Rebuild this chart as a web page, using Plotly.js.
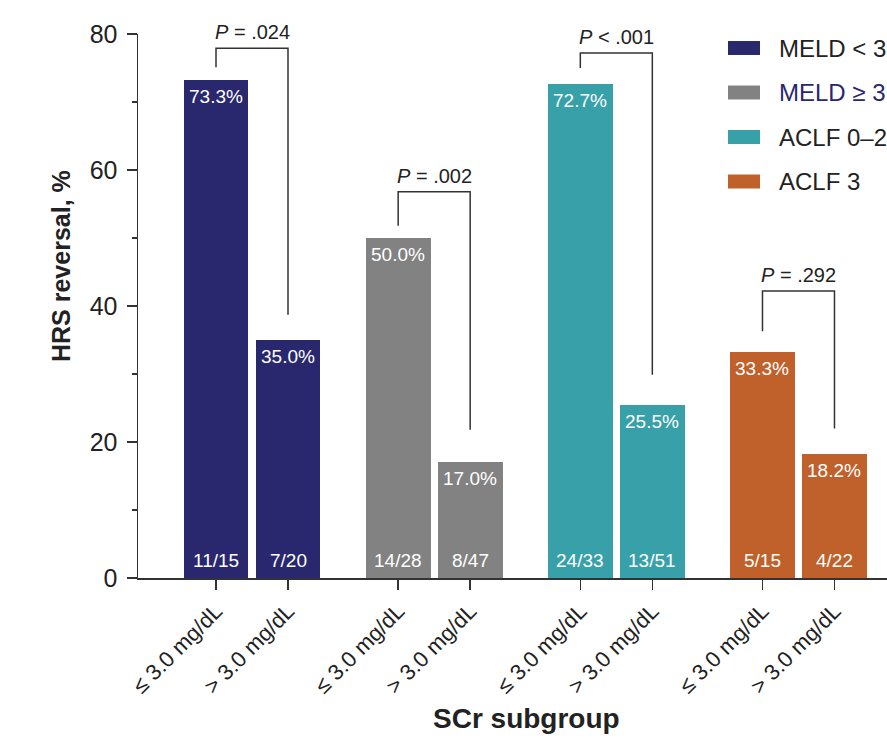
<!DOCTYPE html>
<html>
<head>
<meta charset="utf-8">
<script src="https://cdn.plot.ly/plotly-3.0.1.min.js"></script>
<style>
  html, body { margin: 0; padding: 0; background: #ffffff; }
  #chart { width: 887px; height: 743px; }
</style>
</head>
<body>
<div id="chart"></div>
<script>
// HRS reversal by serum creatinine subgroup, per severity stratum
const groups = ['MELD < 3', 'MELD ≥ 3', 'ACLF 0–2', 'ACLF 3'];
const subgroupLabels = ['≤ 3.0 mg/dL', '> 3.0 mg/dL'];
const lowScrPct = [73.3, 50.0, 72.7, 33.3];   // SCr ≤ 3.0 mg/dL
const highScrPct = [35.0, 17.0, 25.5, 18.2];  // SCr > 3.0 mg/dL
const lowScrN = ['11/15', '14/28', '24/33', '5/15'];
const highScrN = ['7/20', '8/47', '13/51', '4/22'];
const pLabels = ['<i>P</i> = .024', '<i>P</i> = .002', '<i>P</i> < .001', '<i>P</i> = .292'];

// styling
const colors = ['#29276e', '#828282', '#37a0a9', '#c0612b'];
const legendTextColors = ['#222222', '#29276e', '#222222', '#222222'];
const FONT = 'Liberation Sans, Arial, Helvetica, sans-serif';
const INK = '#222222';
const groupStep = 2.53;     // distance between group starts (x units)
const barWidth = 0.9;
const bracketLift = [4.6, 6.8, 4.5, 8.9];   // bracket top above the taller bar
const legLeftGap = [1.8, 1.8, 2.3, 3.0];
const legRightGap = [3.7, 4.8, 4.4, 3.8];

// plot-area geometry in pixels
const W = 887, H = 743;
const M = { l: 138, r: 0, t: 34, b: 165 };
const plotW = W - M.l - M.r, plotH = H - M.t - M.b;
const pxToPaperX = px => (px - M.l) / plotW;
const pxToPaperY = py => (H - M.b - py) / plotH;

const traces = [];
const tickvals = [], ticktext = [];
const shapes = [], annotations = [];

groups.forEach((g, i) => {
  const x0 = i * groupStep, x1 = x0 + 1;
  traces.push({
    type: 'bar',
    x: [x0, x1],
    y: [lowScrPct[i], highScrPct[i]],
    width: barWidth,
    marker: { color: colors[i], line: { width: 0 } },
    name: g,
    showlegend: false,
    hoverinfo: 'skip'
  });
  tickvals.push(x0, x1);
  ticktext.push(subgroupLabels[0], subgroupLabels[1]);

  // percentage labels at the top of each bar
  [[x0, lowScrPct[i]], [x1, highScrPct[i]]].forEach(([x, v]) => {
    annotations.push({
      x: x, y: v, xref: 'x', yref: 'y',
      text: v.toFixed(1) + '%', showarrow: false,
      yanchor: 'top', yshift: -4,
      font: { family: FONT, size: 19, color: '#ffffff' }
    });
  });
  // counts at the base of each bar
  [[x0, lowScrN[i]], [x1, highScrN[i]]].forEach(([x, t]) => {
    annotations.push({
      x: x, y: 0, xref: 'x', yref: 'y',
      text: t, showarrow: false,
      yanchor: 'bottom', yshift: 5,
      font: { family: FONT, size: 19, color: '#ffffff' }
    });
  });

  // significance bracket
  const top = Math.max(lowScrPct[i], highScrPct[i]) + bracketLift[i];
  const yl = lowScrPct[i] + legLeftGap[i];
  const yr = highScrPct[i] + legRightGap[i];
  shapes.push({
    type: 'path', xref: 'x', yref: 'y',
    path: `M ${x0} ${yl} L ${x0} ${top} L ${x1} ${top} L ${x1} ${yr}`,
    line: { color: '#333333', width: 1.5 }
  });
  annotations.push({
    x: (x0 + x1) / 2, y: top, xref: 'x', yref: 'y',
    text: pLabels[i], showarrow: false,
    yanchor: 'bottom', yshift: 3,
    font: { family: FONT, size: 20, color: INK }
  });

  // legend entry
  const cy = 48 + i * 44.5;
  shapes.push({
    type: 'rect', xref: 'paper', yref: 'paper',
    x0: pxToPaperX(728), x1: pxToPaperX(760),
    y0: pxToPaperY(cy - 7), y1: pxToPaperY(cy + 7),
    fillcolor: colors[i], line: { width: 0 }
  });
  annotations.push({
    x: pxToPaperX(777), y: pxToPaperY(cy), xref: 'paper', yref: 'paper',
    text: g, showarrow: false, xanchor: 'left', yanchor: 'middle',
    font: { family: FONT, size: 24, color: legendTextColors[i] }
  });
});

// axis titles
annotations.push({
  x: pxToPaperX(61), y: pxToPaperY(266), xref: 'paper', yref: 'paper',
  text: '<b>HRS reversal, %</b>', textangle: -90, showarrow: false,
  xanchor: 'center', yanchor: 'middle',
  font: { family: FONT, size: 25, color: INK }
});
annotations.push({
  x: pxToPaperX(526), y: pxToPaperY(718), xref: 'paper', yref: 'paper',
  text: '<b>SCr subgroup</b>', showarrow: false,
  xanchor: 'center', yanchor: 'middle',
  font: { family: FONT, size: 28, color: INK }
});

const pxPerUnit = 72;
const firstCenterPx = 216;
const xMin = (M.l - firstCenterPx) / pxPerUnit;
const xMax = xMin + plotW / pxPerUnit;

const layout = {
  width: W, height: H,
  margin: M,
  paper_bgcolor: '#ffffff',
  plot_bgcolor: '#ffffff',
  showlegend: false,
  bargap: 0,
  xaxis: {
    range: [xMin, xMax],
    tickmode: 'array', tickvals: tickvals, ticktext: ticktext,
    tickangle: -45,
    ticks: 'outside', ticklen: 10, tickwidth: 1.5, tickcolor: '#333333',
    showline: true, linecolor: '#333333', linewidth: 1.5,
    showgrid: false, zeroline: false, fixedrange: true,
    tickfont: { family: FONT, size: 22, color: INK }
  },
  yaxis: {
    range: [0, 80],
    tickmode: 'array', tickvals: [0, 20, 40, 60, 80],
    ticks: 'outside', ticklen: 10, tickwidth: 1.5, tickcolor: '#333333',
    minor: { tickmode: 'array', tickvals: [10, 30, 50, 70], ticks: 'outside', ticklen: 5, tickwidth: 1.5, tickcolor: '#333333', showgrid: false },
    showline: true, linecolor: '#333333', linewidth: 1.5,
    showgrid: false, zeroline: false, fixedrange: true,
    ticklabelstandoff: 4,
    tickfont: { family: FONT, size: 25, color: INK }
  },
  shapes: shapes,
  annotations: annotations
};

Plotly.newPlot('chart', traces, layout, { displayModeBar: false, staticPlot: true });
</script>
</body>
</html>
